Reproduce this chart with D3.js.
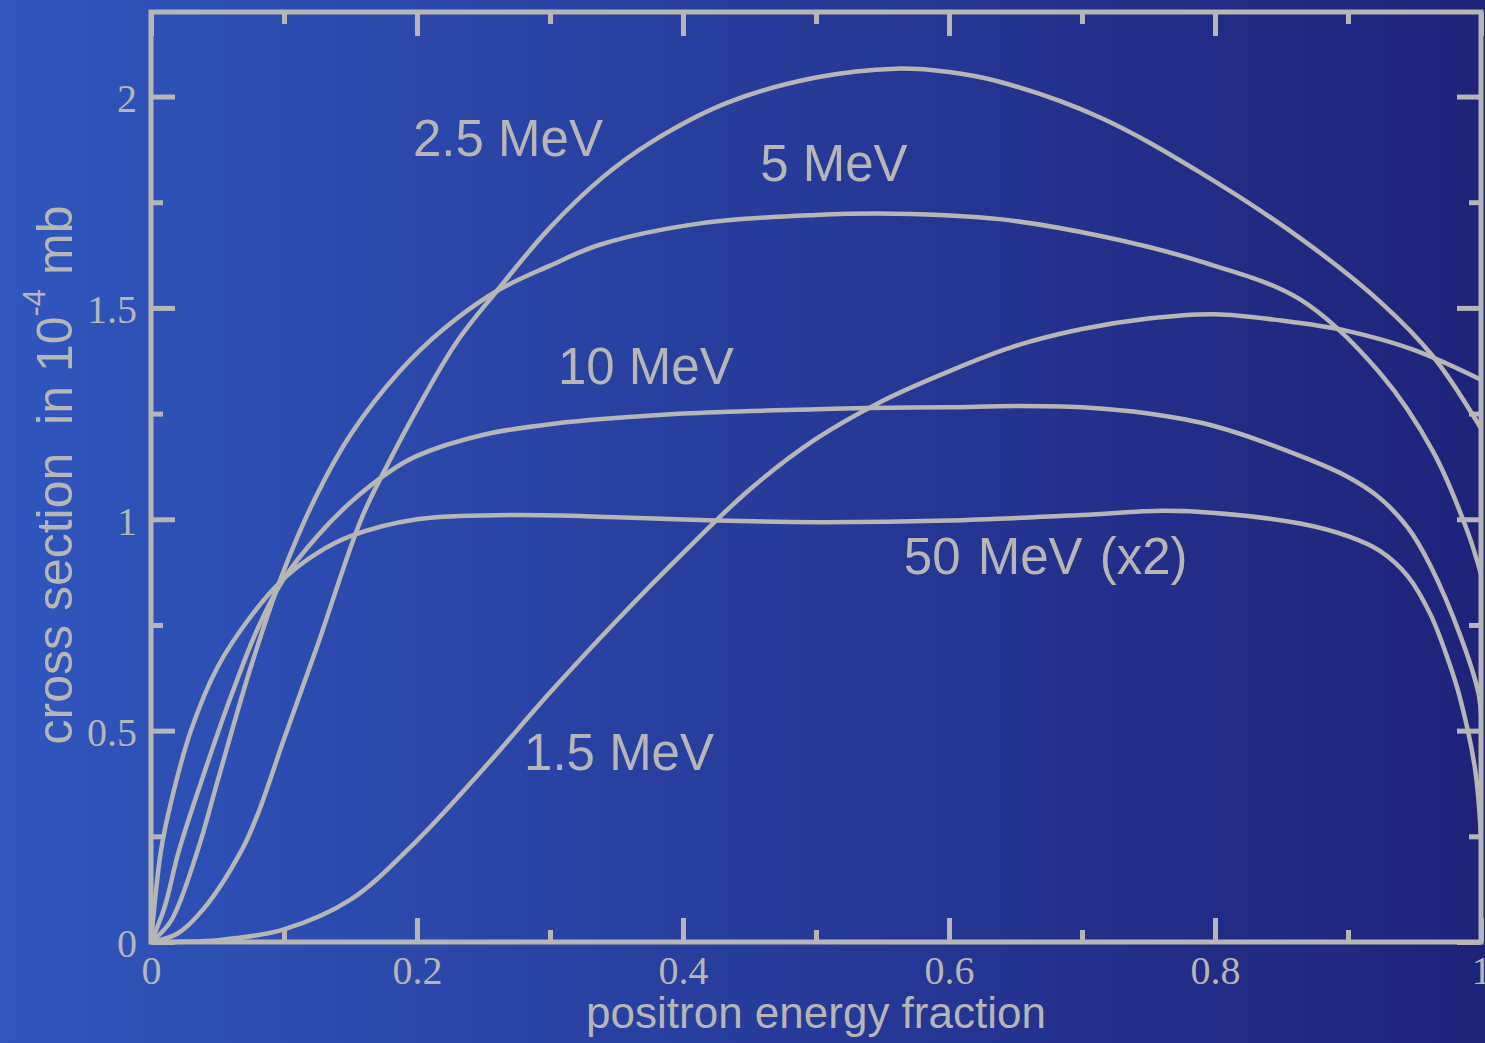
<!DOCTYPE html>
<html>
<head>
<meta charset="utf-8">
<script src="https://cdn.jsdelivr.net/npm/d3@7"></script>
<style>
  body { margin: 0; overflow: hidden; }
  svg { display: block; }
</style>
</head>
<body>
<script>
"use strict"
const w = 1485;
const h = 1043;
const margin = {left: 151, right: 4, top: 12, bottom: 101};
const grey = '#b6b6b6';

// positron energy fraction / cross section (1e-4 mb)
const x15 = [0, 0.025, 0.05, 0.1, 0.15, 0.2, 0.25, 0.3, 0.35, 0.4, 0.45, 0.5, 0.55, 0.6, 0.65, 0.7, 0.75, 0.8, 0.85, 0.9, 0.95, 1.0];
const y15 = [0, 0.0005, 0.004, 0.03, 0.1, 0.24, 0.41, 0.59, 0.76, 0.92, 1.07, 1.19, 1.28, 1.35, 1.41, 1.45, 1.475, 1.485, 1.47, 1.445, 1.40, 1.33];

const x25 = [0, 0.02, 0.04, 0.068, 0.08, 0.1, 0.125, 0.158, 0.178, 0.2, 0.23, 0.26, 0.3, 0.34, 0.375, 0.433, 0.5, 0.56, 0.6, 0.638, 0.714, 0.789, 0.864, 0.924, 0.964, 1.0];
const y25 = [0, 0.02, 0.08, 0.216, 0.3, 0.48, 0.7, 1.0, 1.13, 1.26, 1.42, 1.54, 1.69, 1.81, 1.89, 1.985, 2.045, 2.066, 2.058, 2.035, 1.95, 1.82, 1.665, 1.515, 1.385, 1.215];

const x5 = [0, 0.015, 0.035, 0.05, 0.075, 0.1, 0.125, 0.15, 0.187, 0.22, 0.26, 0.3, 0.338, 0.413, 0.5, 0.56, 0.638, 0.714, 0.789, 0.864, 0.924, 0.964, 0.99, 1.0];
const y5 = [0, 0.05, 0.216, 0.38, 0.65, 0.88, 1.06, 1.2, 1.35, 1.45, 1.54, 1.6, 1.65, 1.70, 1.72, 1.723, 1.71, 1.67, 1.61, 1.52, 1.346, 1.16, 0.97, 0.87];

const x10 = [0, 0.01, 0.021, 0.04, 0.06, 0.08, 0.1, 0.125, 0.15, 0.178, 0.2, 0.25, 0.3, 0.4, 0.5, 0.538, 0.6, 0.65, 0.7, 0.75, 0.8, 0.864, 0.9, 0.924, 0.945, 0.962, 0.985, 0.998, 1.0];
const y10 = [0, 0.08, 0.216, 0.4, 0.58, 0.74, 0.86, 0.96, 1.04, 1.11, 1.15, 1.20, 1.225, 1.25, 1.26, 1.263, 1.265, 1.268, 1.265, 1.25, 1.22, 1.15, 1.10, 1.05, 0.98, 0.89, 0.72, 0.59, 0.54];

const x50 = [0, 0.0075, 0.015, 0.03, 0.05, 0.075, 0.1, 0.125, 0.15, 0.2, 0.27, 0.35, 0.425, 0.5, 0.6, 0.7, 0.76, 0.8, 0.864, 0.9, 0.924, 0.945, 0.962, 0.975, 0.984, 0.9955, 1.0];
const y50 = [0, 0.216, 0.33, 0.5, 0.65, 0.77, 0.86, 0.92, 0.96, 1.0, 1.01, 1.005, 0.997, 0.993, 0.997, 1.01, 1.02, 1.015, 0.99, 0.96, 0.925, 0.865, 0.775, 0.67, 0.58, 0.41, 0.25];

const seriesNames = ['1.5 MeV', '2.5 MeV', '5 MeV', '10 MeV', '50 MeV (x2)'];
const seriesX = [x15, x25, x5, x10, x50];
const seriesY = [y15, y25, y5, y10, y50];
// label anchor in data units (x, y of text baseline start)
const labelX = [0.2805, 0.197, 0.458, 0.306, 0.566];
const labelY = [0.407, 1.86, 1.80, 1.32, 0.87];

const xTicks = [0, 0.2, 0.4, 0.6, 0.8, 1];
const xTickLabels = ['0', '0.2', '0.4', '0.6', '0.8', '1'];
const xMinor = [0.1, 0.3, 0.5, 0.7, 0.9];
const yTicks = [0, 0.5, 1, 1.5, 2];
const yTickLabels = ['0', '0.5', '1', '1.5', '2'];
const yMinor = [0.25, 0.75, 1.25, 1.75];

const mySvg = d3.select('body')
    .append('svg')
    .attr('width', w)
    .attr('height', h);

const grad = mySvg.append('defs')
    .append('linearGradient')
    .attr('id', 'bg')
    .attr('x1', '0%').attr('x2', '100%')
    .attr('y1', '0%').attr('y2', '0%');
grad.append('stop').attr('offset', '0%').attr('stop-color', '#3056bd');
grad.append('stop').attr('offset', '100%').attr('stop-color', '#1e237a');

mySvg.append('rect')
    .attr('width', w)
    .attr('height', h)
    .attr('fill', 'url(#bg)');

const xScale = d3.scaleLinear()
    .domain([0, 1])
    .range([margin.left, w - margin.right]);

const yScale = d3.scaleLinear()
    .domain([0, 2.2])
    .range([h - margin.bottom, margin.top]);

draw();

function styleAxis(g) {
    g.select('.domain').remove();
    g.selectAll('line').attr('stroke', grey).attr('stroke-width', 5);
    g.selectAll('text')
        .attr('fill', grey)
        .attr('font-family', '"Liberation Serif", "Times New Roman", serif')
        .attr('font-size', 40);
}

function draw() {
    const y0 = yScale(0), yTop = yScale(2.2);
    const x0 = xScale(0), x1 = xScale(1);

    // bottom
    mySvg.append('g')
        .attr('transform', 'translate(0,' + y0 + ')')
        .call(d3.axisBottom(xScale).tickValues(xTicks).tickSize(-24).tickPadding(14)
            .tickFormat((d, i) => xTickLabels[i]))
        .call(styleAxis)
        .selectAll('text').attr('dy', '0.71em');
    mySvg.append('g')
        .attr('transform', 'translate(0,' + y0 + ')')
        .call(d3.axisBottom(xScale).tickValues(xMinor).tickSize(-12).tickFormat(''))
        .call(styleAxis);
    // top
    mySvg.append('g')
        .attr('transform', 'translate(0,' + yTop + ')')
        .call(d3.axisTop(xScale).tickValues(xTicks).tickSize(-24).tickFormat(''))
        .call(styleAxis);
    mySvg.append('g')
        .attr('transform', 'translate(0,' + yTop + ')')
        .call(d3.axisTop(xScale).tickValues(xMinor).tickSize(-12).tickFormat(''))
        .call(styleAxis);
    // left
    mySvg.append('g')
        .attr('transform', 'translate(' + x0 + ',0)')
        .call(d3.axisLeft(yScale).tickValues(yTicks).tickSize(-24).tickPadding(14)
            .tickFormat((d, i) => yTickLabels[i]))
        .call(styleAxis)
        .selectAll('text').attr('dy', '0.37em');
    mySvg.append('g')
        .attr('transform', 'translate(' + x0 + ',0)')
        .call(d3.axisLeft(yScale).tickValues(yMinor).tickSize(-12).tickFormat(''))
        .call(styleAxis);
    // right
    mySvg.append('g')
        .attr('transform', 'translate(' + x1 + ',0)')
        .call(d3.axisRight(yScale).tickValues(yTicks).tickSize(-24).tickFormat(''))
        .call(styleAxis);
    mySvg.append('g')
        .attr('transform', 'translate(' + x1 + ',0)')
        .call(d3.axisRight(yScale).tickValues(yMinor).tickSize(-12).tickFormat(''))
        .call(styleAxis);

    const line = d3.line()
        .x(d => xScale(d[0]))
        .y(d => yScale(d[1]))
        .curve(d3.curveCatmullRom.alpha(0.5));

    seriesX.forEach((xs, i) => {
        mySvg.append('path')
            .datum(xs.map((x, j) => [x, seriesY[i][j]]))
            .attr('d', line)
            .attr('fill', 'none')
            .attr('stroke', grey)
            .attr('stroke-width', 4.5);
    });

    // frame
    mySvg.append('rect')
        .attr('x', x0)
        .attr('y', yTop)
        .attr('width', x1 - x0)
        .attr('height', y0 - yTop)
        .attr('fill', 'none')
        .attr('stroke', grey)
        .attr('stroke-width', 5);

    mySvg.selectAll('text.curve')
        .data(seriesNames)
        .enter()
        .append('text')
        .attr('class', 'curve')
        .attr('x', (d, i) => xScale(labelX[i]))
        .attr('y', (d, i) => yScale(labelY[i]))
        .attr('fill', grey)
        .attr('font-family', '"Liberation Sans", Arial, sans-serif')
        .attr('font-size', 51)
        .attr('word-spacing', (d, i) => i === 4 ? 3 : 0)
        .text(d => d);

    mySvg.append('text')
        .attr('x', (x0 + x1) / 2)
        .attr('y', 1028)
        .attr('text-anchor', 'middle')
        .attr('fill', grey)
        .attr('font-family', '"Liberation Sans", Arial, sans-serif')
        .attr('font-size', 44)
        .text('positron energy fraction');

    const yTitle = mySvg.append('text')
        .attr('transform', 'translate(72,475) rotate(-90)')
        .attr('text-anchor', 'middle')
        .attr('fill', grey)
        .attr('font-family', '"Liberation Sans", Arial, sans-serif')
        .attr('font-size', 50)
        .style('white-space', 'pre');
    yTitle.append('tspan').text('cross section  in 10');
    yTitle.append('tspan').attr('font-size', 31).attr('dy', -27).text('-4');
    yTitle.append('tspan').attr('dy', 27).text(' mb');
}
</script>
</body>
</html>
